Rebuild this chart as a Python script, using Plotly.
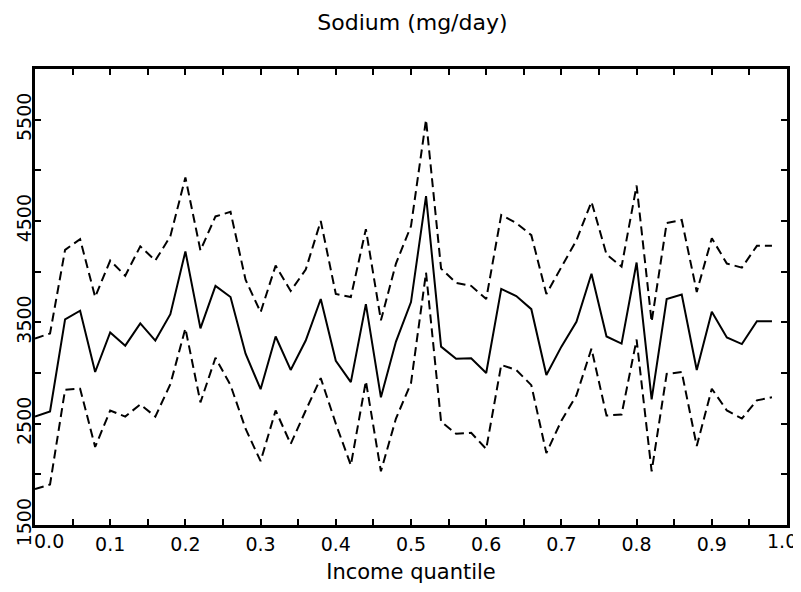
import plotly.graph_objects as go

# income quantile bins (left edges)
income_quantile = [0.00, 0.02, 0.04, 0.06, 0.08, 0.10, 0.12, 0.14, 0.16, 0.18,
                   0.20, 0.22, 0.24, 0.26, 0.28, 0.30, 0.32, 0.34, 0.36, 0.38,
                   0.40, 0.42, 0.44, 0.46, 0.48, 0.50, 0.52, 0.54, 0.56, 0.58,
                   0.60, 0.62, 0.64, 0.66, 0.68, 0.70, 0.72, 0.74, 0.76, 0.78,
                   0.80, 0.82, 0.84, 0.86, 0.88, 0.90, 0.92, 0.94, 0.96, 0.98]

# mean sodium intake
sodium_mean = [2570, 2620, 3530, 3615, 3010, 3400, 3270, 3490, 3320, 3580,
               4200, 3440, 3860, 3750, 3190, 2840, 3360, 3030, 3320, 3730,
               3120, 2910, 3680, 2760, 3310, 3700, 4745, 3260, 3140, 3145,
               3000, 3830, 3760, 3630, 2980, 3260, 3505, 3980, 3360, 3290,
               4090, 2740, 3730, 3775, 3030, 3605, 3350, 3285, 3510, 3510]

# upper band
sodium_upper = [3340, 3390, 4215, 4320, 3750, 4110, 3960, 4250, 4110, 4350,
                4930, 4210, 4545, 4590, 3920, 3600, 4060, 3810, 4020, 4500,
                3780, 3750, 4420, 3520, 4080, 4450, 5500, 4030, 3890, 3860,
                3730, 4560, 4480, 4360, 3780, 4050, 4310, 4690, 4170, 4050,
                4850, 3505, 4480, 4510, 3800, 4330, 4080, 4040, 4255, 4255]

# lower band
sodium_lower = [1855, 1900, 2835, 2845, 2270, 2630, 2570, 2690, 2570, 2890,
                3440, 2710, 3150, 2880, 2450, 2130, 2630, 2300, 2630, 2950,
                2500, 2090, 2920, 2030, 2550, 2900, 3990, 2520, 2400, 2410,
                2250, 3080, 3030, 2880, 2210, 2530, 2780, 3240, 2580, 2590,
                3330, 2030, 2990, 3010, 2280, 2845, 2630, 2550, 2730, 2760]

x_tickvals = [0.0, 0.05, 0.1, 0.15, 0.2, 0.25, 0.3, 0.35, 0.4, 0.45, 0.5,
              0.55, 0.6, 0.65, 0.7, 0.75, 0.8, 0.85, 0.9, 0.95, 1.0]
x_ticktext = ["", "", "0.1", "", "0.2", "", "0.3", "", "0.4", "", "0.5",
              "", "0.6", "", "0.7", "", "0.8", "", "0.9", "", ""]
y_tickvals = [1500, 2000, 2500, 3000, 3500, 4000, 4500, 5000, 5500, 6000]
y_ticktext = ["1500", "", "2500", "", "3500", "", "4500", "", "5500", ""]

font_family = "DejaVu Sans"
tick_size = 19

fig = go.Figure()
fig.add_trace(go.Scatter(x=income_quantile, y=sodium_upper, mode="lines",
                         line=dict(color="black", width=2, dash="9px,5px")))
fig.add_trace(go.Scatter(x=income_quantile, y=sodium_mean, mode="lines",
                         line=dict(color="black", width=2)))
fig.add_trace(go.Scatter(x=income_quantile, y=sodium_lower, mode="lines",
                         line=dict(color="black", width=2, dash="9px,5px")))

# end labels: 0.0 sits right of its tick, 1.0 is tucked against the edge
fig.add_annotation(x=0.0, y=0, xref="x", yref="paper", text="0.0",
                   showarrow=False, xanchor="left", yanchor="top",
                   yshift=-3, xshift=-3,
                   font=dict(family=font_family, size=tick_size, color="black"))
fig.add_annotation(x=1.0, y=0, xref="x", yref="paper", text="1.0",
                   showarrow=False, xanchor="right", yanchor="top",
                   yshift=-3, xshift=12,
                   font=dict(family=font_family, size=tick_size, color="black"))

# page body has an 8px margin, so the figure is a bit smaller than the window
fig.update_layout(
    width=793, height=576,
    margin=dict(l=27, r=14, t=61, b=59),
    paper_bgcolor="white", plot_bgcolor="white",
    showlegend=False,
    font=dict(family=font_family, size=18, color="black"),
    title=dict(text="Sodium (mg/day)", x=0.51, xanchor="center",
               yref="container", y=0.975, yanchor="middle", font=dict(size=22)),
    xaxis=dict(range=[0, 1], tickvals=x_tickvals, ticktext=x_ticktext,
               ticks="inside", ticklen=6, tickwidth=2, tickcolor="black",
               showline=True, linewidth=3, linecolor="black", mirror="allticks",
               showgrid=False, zeroline=False, ticklabelstandoff=0,
               ticklabeloverflow="allow",
               tickfont=dict(size=tick_size), automargin=False,
               title=dict(text="Income quantile", standoff=23,
                          font=dict(family=font_family, size=21, color="black"))),
    yaxis=dict(range=[1500, 6000], tickvals=y_tickvals, ticktext=y_ticktext,
               ticks="inside", ticklen=6, tickwidth=2, tickcolor="black",
               showline=True, linewidth=3, linecolor="black", mirror="allticks",
               showgrid=False, zeroline=False, tickangle=-90,
               ticklabelstandoff=-7, ticklabeloverflow="allow",
               tickfont=dict(size=tick_size), automargin=False),
)

fig.write_html("out.html")
